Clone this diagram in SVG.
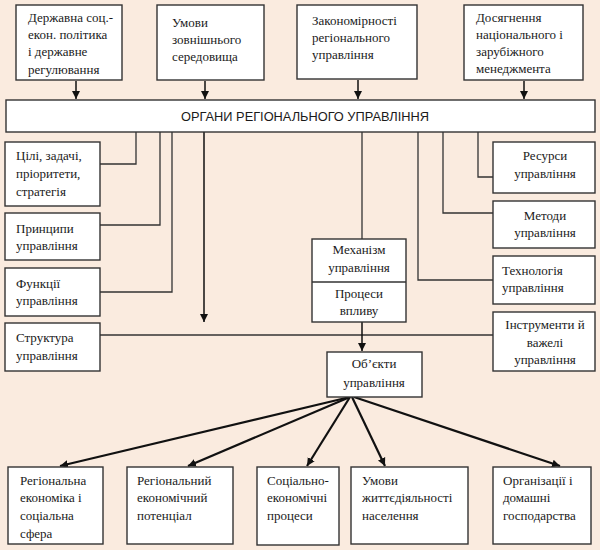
<svg xmlns="http://www.w3.org/2000/svg" width="600" height="550" viewBox="0 0 600 550">
<defs>
<marker id="ah" viewBox="0 0 10 10" refX="10" refY="5" markerWidth="8" markerHeight="9" markerUnits="userSpaceOnUse" orient="auto">
<path d="M0,0 L10,5 L0,10 z" fill="#111"/>
</marker>
<style>
.bx{fill:#fff;stroke:#333;stroke-width:1.4}
.t{font-family:"Liberation Serif","Times New Roman",serif;font-size:13px;fill:#1a1a1a}
.c{text-anchor:middle}
.ln{fill:none;stroke:#333;stroke-width:1.3}
.ar{fill:none;stroke:#111;stroke-width:1.5;marker-end:url(#ah)}
.ar2{fill:none;stroke:#111;stroke-width:2.2;marker-end:url(#ah)}
.title{font-family:"Liberation Sans",Arial,sans-serif;font-size:12.8px;fill:#1a1a1a;text-anchor:middle}
</style>
</defs>
<rect width="600" height="550" fill="#faebdf"/>

<g id="connectors">
<line class="ar" x1="76" y1="81" x2="76" y2="99"/>
<line class="ar" x1="205" y1="81" x2="205" y2="99"/>
<line class="ar" x1="358" y1="80" x2="358" y2="99"/>
<line class="ar" x1="524" y1="81" x2="524" y2="99"/>
<polyline class="ln" points="136,132 136,164 100,164"/>
<polyline class="ln" points="160,132 160,225 100,225"/>
<polyline class="ln" points="172,132 172,292 100,292"/>
<line class="ar" x1="204" y1="132" x2="204" y2="322"/>
<polyline class="ln" points="478,132 478,177 493,177"/>
<polyline class="ln" points="443,132 443,213 493,213"/>
<polyline class="ln" points="418,132 418,280 493,280"/>
<line class="ln" x1="362" y1="132" x2="362" y2="239"/>
<line class="ln" x1="100" y1="335" x2="493" y2="335"/>
<line class="ar" x1="362" y1="322" x2="362" y2="351"/>
<line class="ar2" x1="350" y1="397" x2="60" y2="466"/>
<line class="ar2" x1="350" y1="397" x2="188" y2="466"/>
<line class="ar2" x1="350" y1="397" x2="307" y2="466"/>
<line class="ar2" x1="352" y1="397" x2="385" y2="466"/>
<line class="ar2" x1="354" y1="397" x2="560" y2="466"/>
</g>

<g id="top1"><rect class="bx" x="16" y="5" width="106" height="75"/>
<text class="t" x="28" y="22">Державна соц.-</text><text class="t" x="28" y="39">екон. політика</text><text class="t" x="28" y="56">і державне</text><text class="t" x="28" y="74">регулювання</text></g>
<g id="top2"><rect class="bx" x="157" y="5" width="107" height="75"/>
<text class="t" x="172" y="27">Умови</text><text class="t" x="172" y="44">зовнішнього</text><text class="t" x="172" y="61">середовища</text></g>
<g id="top3"><rect class="bx" x="297" y="5" width="120" height="74"/>
<text class="t" x="312" y="25">Закономірності</text><text class="t" x="312" y="42">регіонального</text><text class="t" x="312" y="59">управління</text></g>
<g id="top4"><rect class="bx" x="464" y="5" width="119" height="75"/>
<text class="t" x="476" y="22">Досягнення</text><text class="t" x="476" y="39">національного і</text><text class="t" x="476" y="56">зарубіжного</text><text class="t" x="476" y="73">менеджмента</text></g>

<g id="organy"><rect class="bx" x="6" y="100" width="589" height="32"/>
<text class="title" x="305" y="121">ОРГАНИ РЕГІОНАЛЬНОГО УПРАВЛІННЯ</text></g>

<g id="tsili"><rect class="bx" x="5" y="142" width="95" height="64"/>
<text class="t" x="16" y="160">Цілі, задачі,</text><text class="t" x="16" y="178">пріоритети,</text><text class="t" x="16" y="196">стратегія</text></g>
<g id="pryntsypy"><rect class="bx" x="5" y="213" width="95" height="47"/>
<text class="t" x="16" y="233">Принципи</text><text class="t" x="16" y="250">управління</text></g>
<g id="funktsii"><rect class="bx" x="5" y="268" width="95" height="48"/>
<text class="t" x="16" y="288">Функції</text><text class="t" x="16" y="305">управління</text></g>
<g id="struktura"><rect class="bx" x="5" y="323" width="95" height="48"/>
<text class="t" x="16" y="342">Структура</text><text class="t" x="16" y="360">управління</text></g>

<g id="resursy"><rect class="bx" x="493" y="142" width="102" height="51"/>
<text class="t c" x="545" y="160">Ресурси</text><text class="t c" x="545" y="178">управління</text></g>
<g id="metody"><rect class="bx" x="493" y="201" width="102" height="47"/>
<text class="t c" x="545" y="220">Методи</text><text class="t c" x="545" y="237">управління</text></g>
<g id="tekhnolohiia"><rect class="bx" x="493" y="256" width="102" height="48"/>
<text class="t" x="502" y="275">Технологія</text><text class="t" x="502" y="292">управління</text></g>
<g id="instrumenty"><rect class="bx" x="493" y="312" width="102" height="59"/>
<text class="t c" x="545" y="329">Інструменти  й</text><text class="t c" x="545" y="347">важелі</text><text class="t c" x="545" y="364">управління</text></g>

<g id="mekhanizm"><rect class="bx" x="312" y="239" width="94" height="83"/>
<line class="ln" x1="312" y1="282" x2="406" y2="282"/>
<text class="t c" x="359" y="254">Механізм</text><text class="t c" x="359" y="272">управління</text><text class="t c" x="359" y="298">Процеси</text><text class="t c" x="359" y="315">впливу</text></g>

<g id="obiekty"><rect class="bx" x="327" y="352" width="95" height="45"/>
<text class="t c" x="374" y="368">Об’єкти</text><text class="t c" x="374" y="387">управління</text></g>

<g id="b1"><rect class="bx" x="8" y="467" width="95" height="77"/>
<text class="t" x="20" y="485">Регіональна</text><text class="t" x="20" y="502">економіка і</text><text class="t" x="20" y="520">соціальна</text><text class="t" x="20" y="538">сфера</text></g>
<g id="b2"><rect class="bx" x="127" y="467" width="106" height="77"/>
<text class="t" x="137" y="485">Регіональний</text><text class="t" x="137" y="502">економічний</text><text class="t" x="137" y="520">потенціал</text></g>
<g id="b3"><rect class="bx" x="257" y="467" width="82" height="78"/>
<text class="t" x="267" y="485">Соціально-</text><text class="t" x="267" y="502">економічні</text><text class="t" x="267" y="520">процеси</text></g>
<g id="b4"><rect class="bx" x="351" y="467" width="117" height="77"/>
<text class="t" x="362" y="485">Умови</text><text class="t" x="362" y="502">життєдіяльності</text><text class="t" x="362" y="520">населення</text></g>
<g id="b5"><rect class="bx" x="493" y="467" width="98" height="77"/>
<text class="t" x="503" y="485">Організації і</text><text class="t" x="503" y="502">домашні</text><text class="t" x="503" y="520">господарства</text></g>
</svg>
